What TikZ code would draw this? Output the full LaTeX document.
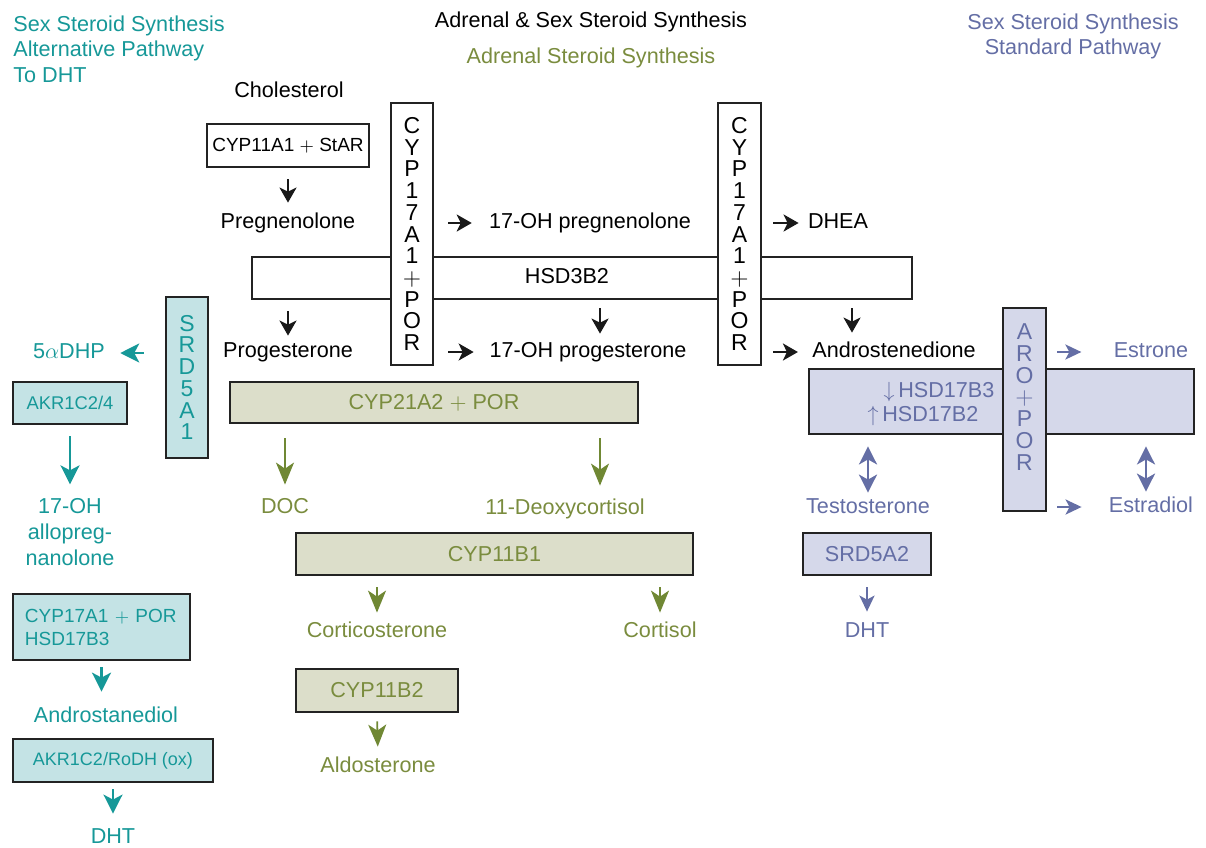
\documentclass[tikz,border=0pt]{standalone}
\usepackage{fontspec}
\setmainfont{Liberation Sans}
\usepackage{tikz}
\usetikzlibrary{arrows.meta}
\definecolor{tealtext}{RGB}{22,152,152}
\definecolor{tealfill}{RGB}{196,227,229}
\definecolor{olivetext}{RGB}{122,140,62}
\definecolor{olivearrow}{RGB}{112,136,52}
\definecolor{olivefill}{RGB}{220,222,202}
\definecolor{bluetext}{RGB}{100,110,165}
\definecolor{bluefill}{RGB}{213,216,234}
\definecolor{boxline}{RGB}{35,35,35}

\begin{document}
\begin{tikzpicture}[x=0.5pt,y=-0.5pt]
\tikzstyle{txt} = [inner sep=0pt, font=\fontsize{10.8}{12.5}\selectfont, text height=7.8pt, text depth=2.2pt]
\tikzstyle{mtxt} = [inner sep=0pt, font=\fontsize{10.8}{12.8}\selectfont, align=center]
\tikzstyle{box} = [draw=boxline, line width=1.4pt, inner sep=0pt, font=\fontsize{10.8}{12.5}\selectfont]
\tikzstyle{vbox} = [draw=boxline, line width=1.4pt, inner sep=0pt, align=center, font=\fontsize{11.5}{10.85}\selectfont]
\tikzstyle{arr} = [draw=black!90, line width=1.2pt, -{Stealth[length=7.5pt, width=8.5pt, inset=2pt]}]
\tikzstyle{garr} = [draw=olivearrow, line width=0.9pt, -{Stealth[length=11pt, width=9pt, inset=3pt]}]
\tikzstyle{tarr} = [draw=tealtext, line width=1.2pt, -{Stealth[length=9.5pt, width=9.5pt, inset=2.5pt]}]
\tikzstyle{barr} = [draw=bluetext, line width=1.2pt, -{Stealth[length=8pt, width=7.5pt, inset=2pt]}]
\tikzstyle{dbarr} = [draw=bluetext, line width=1.4pt, {Stealth[length=9pt, width=9pt, inset=2.5pt]}-{Stealth[length=9pt, width=9pt, inset=2.5pt]}]
\useasboundingbox (0,0) rectangle (1206,847);

\node[mtxt, text=tealtext, align=left, anchor=west] (alttitle) at (13,49) {Sex Steroid Synthesis\\Alternative Pathway\\To DHT};
\node[txt] (maintitle) at (591,22) {Adrenal \& Sex Steroid Synthesis};
\node[txt, text=olivetext] (adrtitle) at (591,58) {Adrenal Steroid Synthesis};
\node[mtxt, text=bluetext] (stdtitle) at (1073,36.5) {Sex Steroid Synthesis\\Standard Pathway};

\node[txt] (chol) at (289,92) {Cholesterol};
\node[box, minimum width=81pt, minimum height=21.5pt, font=\fontsize{9.5}{11}\selectfont] (cyp11a1) at (288,145.5) {CYP11A1 $+$ StAR};
\node[txt] (preg) at (288,223) {Pregnenolone};
\node[txt] (ohpreg) at (590,223) {17-OH pregnenolone};
\node[txt] (dhea) at (838,223) {DHEA};
\node[box, minimum width=330pt, minimum height=21pt] (hsd3b2) at (582,278) {};
\node[txt] (hsd3b2txt) at (567,278) {HSD3B2};
\node[vbox, fill=white, minimum width=21pt, minimum height=131pt] (cypa) at (412,234) {C\\Y\\P\\1\\7\\A\\1\\$+$\\P\\O\\R};
\node[vbox, fill=white, minimum width=21.5pt, minimum height=131pt] (cypb) at (739.5,234) {C\\Y\\P\\1\\7\\A\\1\\$+$\\P\\O\\R};
\node[txt] (prog) at (288,352) {Progesterone};
\node[txt] (ohprog) at (588,352) {17-OH progesterone};
\node[txt] (andro) at (894,352) {Androstenedione};

\node[box, fill=bluefill, minimum width=192.5pt, minimum height=32.5pt] (hsd17) at (1001.5,401.5) {};
\node[txt, text=bluetext] (hsd17b3) at (939,392) {$\downarrow$\,HSD17B3};
\node[txt, text=bluetext] (hsd17b2) at (923,416) {$\uparrow$\,HSD17B2};
\node[vbox, fill=bluefill, minimum width=21.5pt, minimum height=101.5pt] (aro) at (1024.5,409.5) {};
\node[vbox, draw=none, text=bluetext] (arotxt) at (1024.5,397) {A\\R\\O\\$+$\\P\\O\\R};
\node[txt, text=bluetext] (estrone) at (1151,352) {Estrone};
\node[txt, text=bluetext] (estradiol) at (1151,507) {Estradiol};
\node[txt, text=bluetext] (testo) at (868,508) {Testosterone};
\node[box, fill=bluefill, text=bluetext, minimum width=64pt, minimum height=21pt] (srd5a2) at (867,554) {SRD5A2};
\node[txt, text=bluetext] (dhtb) at (867,632) {DHT};

\node[box, fill=olivefill, text=olivetext, minimum width=204pt, minimum height=20.5pt] (cyp21) at (434,402.5) {CYP21A2 $+$ POR};
\node[txt, text=olivetext] (doc) at (285,508) {DOC};
\node[txt, text=olivetext] (deoxy) at (565,509) {11-Deoxycortisol};
\node[box, fill=olivefill, text=olivetext, minimum width=198.5pt, minimum height=21pt] (cyp11b1) at (494.5,554) {CYP11B1};
\node[txt, text=olivetext] (cortico) at (377,632) {Corticosterone};
\node[txt, text=olivetext] (cortisol) at (660,632) {Cortisol};
\node[box, fill=olivefill, text=olivetext, minimum width=81pt, minimum height=21.5pt] (cyp11b2) at (377,690.5) {CYP11B2};
\node[txt, text=olivetext] (aldo) at (378,767) {Aldosterone};

\node[vbox, fill=tealfill, text=tealtext, minimum width=21pt, minimum height=80.5pt] (srd5a1) at (187,377.5) {S\\R\\D\\5\\A\\1};
\node[txt, text=tealtext] (dhp) at (69,353) {5$\alpha$DHP};
\node[box, fill=tealfill, text=tealtext, minimum width=57pt, minimum height=21pt, font=\fontsize{9.2}{11}\selectfont] (akr42) at (70,403) {AKR1C2/4};
\node[mtxt, text=tealtext] (allo) at (70,532) {17-OH\\allopreg-\\nanolone};
\node[box, fill=tealfill, text=tealtext, minimum width=88.5pt, minimum height=33pt, text width=76.5pt, align=left, font=\fontsize{9.5}{11.5}\selectfont] (cyp17t) at (101.5,627) {CYP17A1 $+$ POR\\HSD17B3};
\node[txt, text=tealtext] (androstanediol) at (106,717) {Androstanediol};
\node[box, fill=tealfill, text=tealtext, minimum width=100pt, minimum height=21.5pt, font=\fontsize{9}{11}\selectfont] (akrox) at (113,760.5) {AKR1C2/RoDH (ox)};
\node[txt, text=tealtext] (dhtt) at (113,838) {DHT};

\draw[arr, shorten <=5.5pt, shorten >=5pt] (cyp11a1.south) -- (preg.north);
\draw[arr, shorten <=7pt, shorten >=8.5pt] (cypa.east |- ohpreg.west) -- (ohpreg.west);
\draw[arr, shorten <=7pt, shorten >=7.75pt] (cypa.east |- ohprog.west) -- (ohprog.west);
\draw[arr, shorten <=5.5pt, shorten >=4.5pt] (cypb.east |- dhea.west) -- (dhea.west);
\draw[arr, shorten <=5.5pt, shorten >=7pt] (cypb.east |- andro.west) -- (andro.west);
\draw[arr, shorten <=5.5pt, shorten >=3pt] (prog.north |- hsd3b2.south) -- (prog.north);
\draw[arr, shorten <=4pt, shorten >=4pt] ([xshift=6pt]ohprog.north |- hsd3b2.south) -- ([xshift=6pt]ohprog.north);
\draw[arr, shorten <=4pt, shorten >=4.5pt] ([xshift=-21pt]andro.north |- hsd3b2.south) -- ([xshift=-21pt]andro.north);

\draw[tarr, shorten <=10.5pt, shorten >=7.5pt] (srd5a1.west |- dhp.east) -- (dhp.east);
\draw[tarr, shorten <=5.5pt, shorten >=7pt] (akr42.south) -- (allo.north);
\draw[tarr, shorten <=3pt, shorten >=7.5pt] (cyp17t.south) -- (cyp17t.south |- androstanediol.north);
\draw[tarr, shorten <=3pt, shorten >=7pt] (akrox.south) -- (dhtt.north);

\draw[garr, shorten <=7pt, shorten >=6.5pt] (doc.north |- cyp21.south) -- (doc.north);
\draw[garr, shorten <=7pt, shorten >=6.5pt] ([xshift=17.5pt]deoxy.north |- cyp21.south) -- ([xshift=17.5pt]deoxy.north);
\draw[garr, shorten <=5.5pt, shorten >=4.5pt] (cortico.north |- cyp11b1.south) -- (cortico.north);
\draw[garr, shorten <=5.5pt, shorten >=4.5pt] (cortisol.north |- cyp11b1.south) -- (cortisol.north);
\draw[garr, shorten <=4pt, shorten >=5pt] (cyp11b2.south) -- (aldo.north);

\draw[barr, shorten <=5pt, shorten >=16pt] (aro.east |- estrone.west) -- (estrone.west);
\draw[barr, shorten <=5pt, shorten >=13.5pt] (aro.east |- estradiol.west) -- (estradiol.west);
\draw[dbarr, shorten <=5.5pt, shorten >=2.5pt] (testo.north |- hsd17.south) -- (testo.north);
\draw[dbarr, shorten <=5.5pt, shorten >=2.5pt] ([xshift=-2.5pt]estradiol.north |- hsd17.south) -- ([xshift=-2.5pt]estradiol.north);
\draw[barr, shorten <=5.5pt, shorten >=5pt] (srd5a2.south) -- (dhtb.north);
\end{tikzpicture}
\end{document}
